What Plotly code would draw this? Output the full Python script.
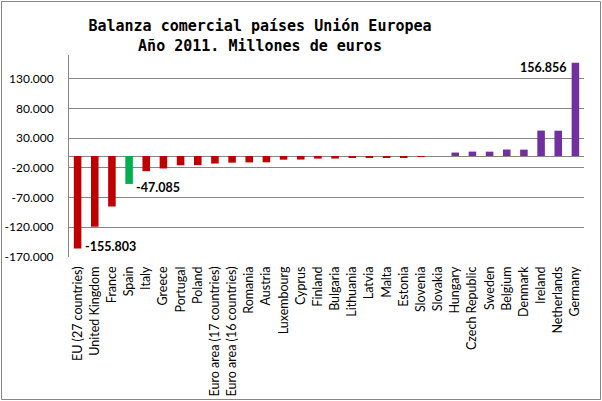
import plotly.graph_objects as go

categories = ["EU (27 countries)", "United Kingdom", "France", "Spain", "Italy", "Greece",
              "Portugal", "Poland", "Euro area (17 countries)", "Euro area (16 countries)",
              "Romania", "Austria", "Luxembourg", "Cyprus", "Finland", "Bulgaria",
              "Lithuania", "Latvia", "Malta", "Estonia", "Slovenia", "Slovakia", "Hungary",
              "Czech Republic", "Sweden", "Belgium", "Denmark", "Ireland", "Netherlands",
              "Germany"]
values = [-155803, -119000, -85000, -47085, -25600, -21000,
          -15600, -15400, -12700, -11200,
          -10800, -10600, -6200, -6000, -4400, -4300,
          -2700, -2600, -2500, -1700, -1400, 0, 5800,
          7400, 7300, 10900, 10700, 42800, 42600,
          156856]
highlight = "Spain"
labelled = {"EU (27 countries)": "right", "Spain": "right", "Germany": "left"}
tick_vals = [-170000, -120000, -70000, -20000, 30000, 80000, 130000]

RED, GREEN, PURPLE, GRID = "#C00000", "#00B050", "#7030A0", "#868686"

def fmt(v):
    return f"{v:,}".replace(",", ".")

colors = [GREEN if c == highlight else (RED if v < 0 else PURPLE)
          for c, v in zip(categories, values)]

fig = go.Figure(go.Bar(x=categories, y=values, marker=dict(color=colors, line=dict(width=0)),
                       hoverinfo="skip"))

annotations = []
for c, v in zip(categories, values):
    if c in labelled:
        side = labelled[c]
        annotations.append(dict(
            x=c, y=v, xref="x", yref="y", text=f"<b>{fmt(v)}</b>", showarrow=False,
            xanchor="left" if side == "right" else "right",
            yanchor="middle",
            xshift=5 if side == "right" else -7,
            yshift=(-4 if c == highlight else (2 if v < 0 else -5)),
            font=dict(family="Lato", size=12.5, color="black")))

PL, PT, PW, PH = 69, 55, 515, 202  # plot area in pixels
fig.update_layout(
    width=602, height=401,
    margin=dict(l=PL, r=602 - PL - PW, t=PT, b=401 - PT - PH, autoexpand=False),
    paper_bgcolor="white", plot_bgcolor="white",
    separators=",.",
    showlegend=False,
    bargap=0.56,
    title=dict(text="<b>Balanza comercial países Unión Europea<br>Año 2011. Millones de euros</b>",
               x=260/602, xanchor="center", xref="container",
               y=1 - 31/401, yanchor="middle", yref="container",
               font=dict(family="DejaVu Sans Mono", size=15, color="black")),
    annotations=annotations,
    shapes=[dict(type="rect", xref="paper", yref="paper",
                 x0=(1.5 - PL) / PW, x1=(600.5 - PL) / PW,
                 y0=(PT + PH - 399.5) / PH, y1=(PT + PH - 1.5) / PH,
                 line=dict(color=GRID, width=1), fillcolor="rgba(0,0,0,0)", layer="below")],
)
fig.update_xaxes(tickangle=-90, tickfont=dict(family="Lato", size=12.5, color="black"),
                 showgrid=False, showline=False, ticks="", ticklabelstandoff=6, automargin=False)
fig.update_yaxes(range=[-170000, 170000], tickvals=tick_vals, ticktext=[fmt(v) for v in tick_vals],
                 tickfont=dict(family="Lato", size=12, color="black"),
                 showgrid=True, gridcolor=GRID, gridwidth=1,
                 zeroline=True, zerolinecolor=GRID, zerolinewidth=1,
                 showline=True, linecolor=GRID, linewidth=1, ticks="", ticklabelstandoff=12,
                 automargin=False)

fig.write_html("out.html")
